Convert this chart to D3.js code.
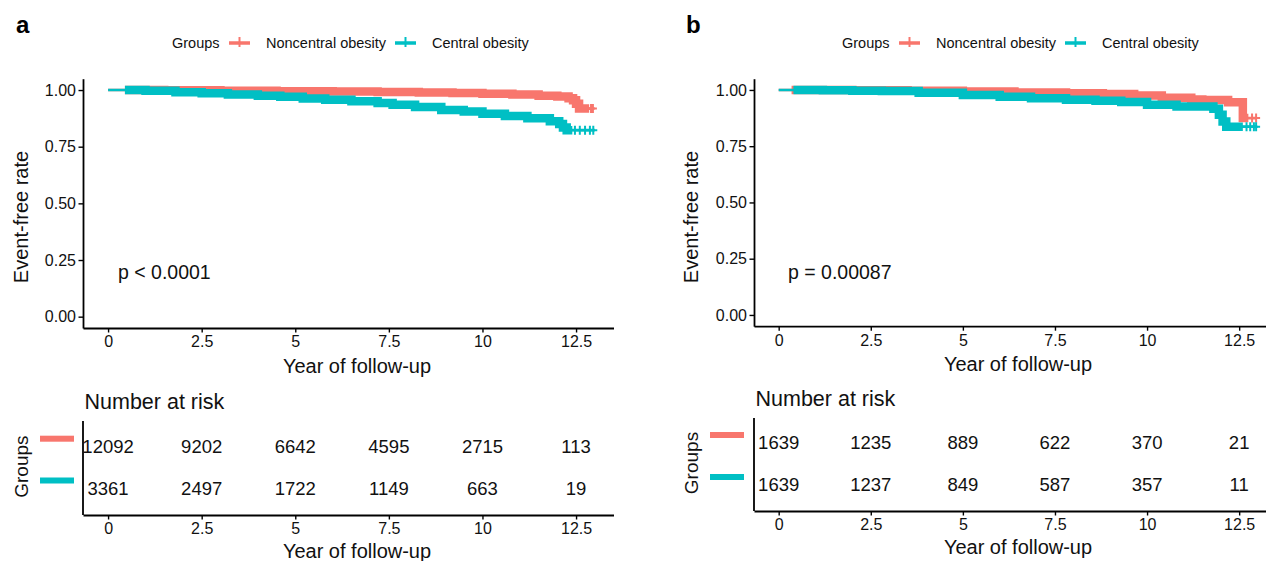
<!DOCTYPE html>
<html>
<head>
<meta charset="utf-8">
<script src="https://cdn.jsdelivr.net/npm/d3@7"></script>
<style>
  body { margin: 0; background: #fff; }
  svg { font-family: "Liberation Sans", Arial, sans-serif; }
</style>
</head>
<body>
<svg id="chart" width="1266" height="561"></svg>
<script>
// groups and colours
var groups = ['Noncentral obesity', 'Central obesity'];
var groupColors = ['#F8766D', '#00BFC4'];
var yearTicks = [0, 2.5, 5, 7.5, 10, 12.5];
var rateTicks = [0, 0.25, 0.5, 0.75, 1];

// panel a : Kaplan-Meier steps
var timeA_non = [0, 0.45, 1.5, 3, 4.5, 6, 7.2, 8.3, 9.2, 10, 10.8, 11.5, 12.0, 12.3, 12.42, 12.5, 12.58, 12.95];
var survA_non = [1, 1, 0.999, 0.997, 0.995, 0.993, 0.991, 0.989, 0.987, 0.984, 0.98, 0.975, 0.971, 0.964, 0.955, 0.94, 0.918, 0.918];
var timeA_cen = [0, 0.45, 1, 1.8, 2.5, 3.2, 4, 4.6, 5.2, 5.8, 6.5, 7.2, 7.6, 8.2, 8.9, 9.5, 10, 10.6, 11.2, 11.8, 12.05, 12.15, 12.25, 13.0];
var survA_cen = [1, 1, 0.997, 0.99, 0.986, 0.98, 0.975, 0.97, 0.963, 0.957, 0.95, 0.943, 0.935, 0.925, 0.912, 0.905, 0.895, 0.885, 0.875, 0.862, 0.85, 0.835, 0.823, 0.823];
var riskA_non = [12092, 9202, 6642, 4595, 2715, 113];
var riskA_cen = [3361, 2497, 1722, 1149, 663, 19];

// panel b
var timeB_non = [0, 0.4, 2.0, 3.5, 5.0, 6.4, 7.8, 8.8, 9.65, 10.4, 11.2, 11.5, 12.2, 12.6, 12.96];
var survB_non = [1, 1, 0.999, 0.996, 0.993, 0.989, 0.985, 0.982, 0.975, 0.965, 0.958, 0.955, 0.945, 0.875, 0.875];
var timeB_cen = [0, 0.4, 1.2, 2, 2.8, 3.8, 5.0, 6.0, 6.85, 7.8, 8.6, 9.3, 10.0, 10.8, 11.8, 11.95, 12.05, 12.15, 12.96];
var survB_cen = [1, 1, 0.999, 0.997, 0.995, 0.988, 0.978, 0.97, 0.963, 0.957, 0.952, 0.946, 0.934, 0.926, 0.916, 0.89, 0.86, 0.837, 0.837];
var riskB_non = [1639, 1235, 889, 622, 370, 21];
var riskB_cen = [1639, 1237, 849, 587, 357, 11];

// censoring: dense band start/end, then single marks at the tail
var censorA_non = { from: 0.45, to: 12.85, marks: [12.9, 12.95] };
var censorA_cen = { from: 0.45, to: 12.4, marks: [12.47, 12.6, 12.74, 12.87, 12.96] };
var censorB_non = { from: 0.35, to: 12.75, marks: [12.85, 12.96] };
var censorB_cen = { from: 0.4, to: 12.6, marks: [12.7, 12.8, 12.9, 12.96] };

var svg = d3.select('#chart');
var defs = svg.append('defs');
var clipId = 0;

function survAt(times, surv, t) {
  var i = d3.bisectRight(times, t) - 1;
  return surv[Math.max(0, i)];
}

function styleAxis(a) {
  a.select('.domain').attr('stroke', '#000').attr('stroke-width', 1.8);
  a.selectAll('.tick line').attr('stroke', '#000').attr('stroke-width', 1.4);
  a.selectAll('.tick text').attr('fill', '#111').style('font-size', '16px')
    .style('font-family', '"Liberation Sans", Arial, sans-serif');
}

function drawPanel(p) {
  var g = svg.append('g').attr('transform', 'translate(' + p.dx + ',0)');
  var x = d3.scaleLinear().domain([-0.67, 13.5]).range(p.xRange);
  var y = d3.scaleLinear().domain([-0.05, 1.05]).range(p.yRange);

  // panel letter
  g.append('text').attr('x', 16).attr('y', 25).attr('dy', '0.35em')
    .style('font-weight', 'bold').style('font-size', '24px').text(p.letter);

  // legend
  var lg = g.append('g').style('font-size', '14.5px').attr('fill', '#111');
  lg.append('text').attr('x', 172).attr('y', 43).attr('dy', '0.35em').text('Groups');
  var keyX = [229, 395], labX = [266, 432];
  groups.forEach(function (name, i) {
    lg.append('line').attr('x1', keyX[i]).attr('x2', keyX[i] + 21).attr('y1', 43).attr('y2', 43)
      .attr('stroke', groupColors[i]).attr('stroke-width', 3.5);
    lg.append('line').attr('x1', keyX[i] + 10.5).attr('x2', keyX[i] + 10.5).attr('y1', 37).attr('y2', 47)
      .attr('stroke', groupColors[i]).attr('stroke-width', 2);
    lg.append('text').attr('x', labX[i]).attr('y', 43).attr('dy', '0.35em').text(name);
  });

  // curves
  var line = d3.line().curve(d3.curveStepAfter)
    .x(function (d) { return x(d[0]); }).y(function (d) { return y(d[1]); });
  p.curves.forEach(function (c, i) {
    var pts = c.t.map(function (t, k) { return [t, c.s[k]]; });
    g.append('path').attr('d', line(pts)).attr('fill', 'none')
      .attr('stroke', groupColors[i]).attr('stroke-width', 2.6);
    var id = 'clip' + (clipId++);
    defs.append('clipPath').attr('id', id).append('rect')
      .attr('x', x(c.cens.from) + p.dx).attr('width', x(c.cens.to) - x(c.cens.from))
      .attr('y', 0).attr('height', 400);
    g.append('g').attr('clip-path', 'url(#' + id + ')').attr('transform', 'translate(' + (-p.dx) + ',0)')
      .append('path').attr('d', line(pts)).attr('fill', 'none')
      .attr('transform', 'translate(' + p.dx + ',0)')
      .attr('stroke', groupColors[i]).attr('stroke-width', 8.5);
    c.cens.marks.forEach(function (t) {
      var cx = x(t), cy = y(survAt(c.t, c.s, t));
      g.append('path').attr('d', 'M' + (cx - 4) + ',' + cy + 'H' + (cx + 4) + 'M' + cx + ',' + (cy - 4.5) + 'V' + (cy + 4.5))
        .attr('stroke', groupColors[i]).attr('stroke-width', 2);
    });
  });

  // axes of the survival plot
  var ax = g.append('g').attr('transform', 'translate(0,' + p.yRange[0] + ')')
    .call(d3.axisBottom(x).tickValues(yearTicks).tickFormat(String).tickSize(4.5).tickSizeOuter(0).tickPadding(3.5));
  var ay = g.append('g').attr('transform', 'translate(' + p.xRange[0] + ',0)')
    .call(d3.axisLeft(y).tickValues(rateTicks).tickFormat(d3.format('.2f')).tickSize(4.5).tickSizeOuter(0).tickPadding(2.5));
  styleAxis(ax);
  styleAxis(ay);

  g.append('text').attr('x', p.titleX).attr('y', p.yRange[0] + 38).attr('dy', '0.35em')
    .attr('text-anchor', 'middle').style('font-size', '20px').attr('fill', '#111').text('Year of follow-up');
  g.append('text').attr('transform', 'translate(21,217) rotate(-90)').attr('dy', '0.35em')
    .attr('text-anchor', 'middle').style('font-size', '20px').attr('fill', '#111').text('Event-free rate');
  g.append('text').attr('x', 118).attr('y', 272).attr('dy', '0.35em')
    .style('font-size', '19.5px').attr('fill', '#111').text(p.pText);

  // number at risk table
  var tb = p.table;
  g.append('text').attr('x', p.xRange[0] + 1.5).attr('y', tb.titleY).attr('dy', '0.35em')
    .style('font-size', '21.5px').attr('fill', '#111').text('Number at risk');
  var ry = d3.scalePoint().domain(groups).range(tb.rows);
  var tx = g.append('g').attr('transform', 'translate(0,' + tb.bottom + ')')
    .call(d3.axisBottom(x).tickValues(yearTicks).tickFormat(String).tickSize(4.5).tickSizeOuter(0).tickPadding(3.5));
  styleAxis(tx);
  g.append('line').attr('x1', p.xRange[0]).attr('x2', p.xRange[0]).attr('y1', tb.top).attr('y2', tb.bottom)
    .attr('stroke', '#000').attr('stroke-width', 1.8);
  tb.risk.forEach(function (vals, i) {
    var gy = ry(groups[i]);
    g.append('rect').attr('x', 40).attr('width', 34).attr('y', gy - 8 - 3).attr('height', 6)
      .attr('fill', groupColors[i]);
    g.selectAll(null).data(vals).enter().append('text')
      .attr('x', function (d, k) { return x(yearTicks[k]); }).attr('y', gy).attr('dy', '0.35em')
      .attr('text-anchor', 'middle').style('font-size', '18.5px').attr('fill', '#111')
      .text(function (d) { return d; });
  });
  g.append('text').attr('transform', 'translate(21,' + ((tb.rows[0] + tb.rows[1]) / 2 - 1) + ') rotate(-90)')
    .attr('dy', '0.35em').attr('text-anchor', 'middle').style('font-size', '19px').attr('fill', '#111').text('Groups');
  g.append('text').attr('x', p.titleX).attr('y', tb.bottom + 36).attr('dy', '0.35em')
    .attr('text-anchor', 'middle').style('font-size', '20px').attr('fill', '#111').text('Year of follow-up');
}

drawPanel({
  dx: 0, letter: 'a', pText: 'p < 0.0001',
  xRange: [83, 613.5], yRange: [328, 78.7], titleX: 357,
  curves: [
    { t: timeA_non, s: survA_non, cens: censorA_non },
    { t: timeA_cen, s: survA_cen, cens: censorA_cen }
  ],
  table: { titleY: 401.5, top: 421, bottom: 515, rows: [446.7, 488.5], risk: [riskA_non, riskA_cen] }
});

drawPanel({
  dx: 670, letter: 'b', pText: 'p = 0.00087',
  xRange: [84, 606], yRange: [326.2, 78.7], titleX: 348,
  curves: [
    { t: timeB_non, s: survB_non, cens: censorB_non },
    { t: timeB_cen, s: survB_cen, cens: censorB_cen }
  ],
  table: { titleY: 398, top: 418, bottom: 511, rows: [443, 485], risk: [riskB_non, riskB_cen] }
});
</script>
</body>
</html>
